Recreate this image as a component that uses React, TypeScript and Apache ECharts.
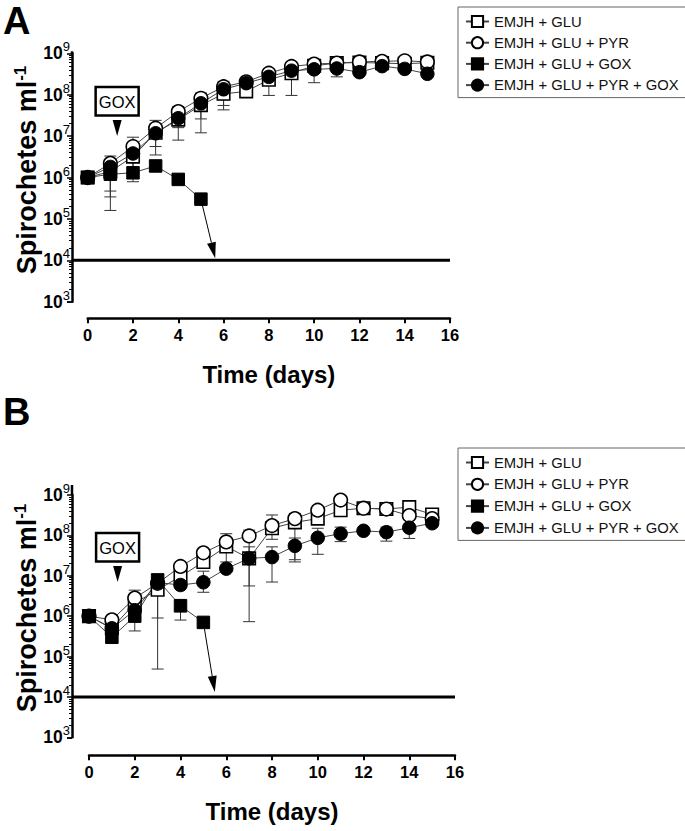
import React, { useEffect, useRef } from 'react';
import * as echarts from 'echarts';

const FONT = '"Liberation Sans", Arial, Helvetica, sans-serif';

const days = [0, 1, 2, 3, 4, 5, 6, 7, 8, 9, 10, 11, 12, 13, 14, 15];
const seriesNames = ['EMJH + GLU', 'EMJH + GLU + PYR', 'EMJH + GLU + GOX', 'EMJH + GLU + PYR + GOX'];
const panelLabels = ['A', 'B'];

// Panel A values (spirochetes / ml)
const A_GLU = [1e6, 1.4e6, 3.2e6, 1.2e7, 2.5e7, 5.6e7, 1.05e8, 1.2e8, 2.3e8, 3.3e8, 5e8, 5.8e8, 6e8, 5.8e8, 5.6e8, 5.9e8];
const A_PYR = [1e6, 2.2e6, 5.6e6, 1.55e7, 3.9e7, 8.2e7, 1.56e8, 2.05e8, 3.3e8, 4.8e8, 5.5e8, 5.8e8, 6.2e8, 6.4e8, 6.6e8, 6.2e8];
const A_GOX = [1e6, 1.2e6, 1.3e6, 1.9e6, 9e5, 3e5];
const A_PYRGOX = [1e6, 1.8e6, 3.8e6, 1.17e7, 2.7e7, 6.2e7, 1.35e8, 1.9e8, 2.7e8, 3.8e8, 4.1e8, 4.3e8, 3.5e8, 4.9e8, 4.2e8, 3.2e8];
// [day, low, high]
const A_ERR = [
  [1, 1.6e5, 3.3e6], [1, 3.4e5, 2.4e6], [1, 4.7e5, 2e6],
  [2, 7.9e5, 9.4e6], [2, 1e6, 6e6],
  [3, 3.5e6, 2.4e7], [3, 5.6e6, 2e7],
  [4, 8e6, 5.2e7], [4, 1.6e7, 4.5e7],
  [5, 1.2e7, 1.1e8], [5, 2.6e7, 9e7],
  [6, 4.3e7, 2.1e8], [6, 5.5e7, 1.8e8], [6, 7.5e7, 1.9e8],
  [7, 1e8, 2.5e8],
  [8, 9.6e7, 3.8e8],
  [9, 9.6e7, 5.5e8],
  [10, 1.95e8, 7e8],
  [11, 2.7e8, 7.5e8],
];

// Panel B values
const B_GLU = [1e6, 5e5, 2.1e6, 4.5e6, 9.6e6, 2.2e7, 5.3e7, 2.7e7, 1.5e8, 2.1e8, 2.6e8, 4.2e8, 4.7e8, 4.5e8, 5e8, 3.3e8];
const B_PYR = [1e6, 8.1e5, 2.8e6, 6.5e6, 1.7e7, 3.7e7, 6.9e7, 9.7e7, 1.75e8, 2.6e8, 4.2e8, 7.5e8, 4.7e8, 4.5e8, 3.1e8, 2.6e8];
const B_GOX = [1e6, 3e5, 1e6, 7.9e6, 1.8e6, 7e5];
const B_PYRGOX = [1e6, 5e5, 1.4e6, 6.8e6, 5.9e6, 6.9e6, 1.5e7, 2.7e7, 2.9e7, 5.5e7, 8.7e7, 1.1e8, 1.3e8, 1.2e8, 1.55e8, 2e8];
const B_ERR = [
  [2, 4.3e5, 4.4e6], [2, 8e5, 3.5e6],
  [3, 4.9e4, 1.05e7], [3, 9e5, 9e6],
  [4, 8e5, 2.6e6],
  [5, 3.9e6, 1.3e7],
  [6, 2.2e7, 1.1e8],
  [7, 7.3e5, 5.2e7], [7, 5.6e6, 1.35e8],
  [8, 7e6, 5.2e7], [8, 8e7, 3.2e8],
  [9, 2.2e7, 8.6e7], [9, 2.5e7, 3.5e8],
  [10, 3.4e7, 1.5e8],
  [11, 7e7, 1.6e8],
  [13, 7.2e7, 1.6e8],
  [14, 8.4e7, 2.5e8],
];

// annotations: GOX addition marker tip [day, value]; GOX-series arrow end [day, value]
const GOX_MARK_A = [1.3, 1e7];
const GOX_MARK_B = [1.25, 7e6];
const ARROW_END_A = [5.63, 1.12e4];
const ARROW_END_B = [5.5, 1.33e4];
const DETECTION_LIMIT = 1e4;

// layout
const GRIDS = [
  { left: 87.7, top: 53.3, width: 362.3, height: 248.4, yOff: 15.7, xOff: 16.6, legendTop: 7, legendGap: 6.2, titleY: 170, axisTopExtra: 2 },
  { left: 89, top: 495, width: 366, height: 242.3, yOff: 17, xOff: 18, legendTop: 448, legendGap: 6.8, titleY: 608, axisTopExtra: 10 },
];

const pairs = (vals: number[]) => vals.map((v, i) => [days[i], v]);

function errRender(params: any, api: any) {
  const x = api.value(0);
  const a = api.coord([x, api.value(1)]);
  const b = api.coord([x, api.value(2)]);
  const w = 6;
  const style = { stroke: '#333', lineWidth: 1 };
  return {
    type: 'group',
    children: [
      { type: 'line', shape: { x1: a[0], y1: a[1], x2: b[0], y2: b[1] }, style },
      { type: 'line', shape: { x1: a[0] - w, y1: a[1], x2: a[0] + w, y2: a[1] }, style },
      { type: 'line', shape: { x1: b[0] - w, y1: b[1], x2: b[0] + w, y2: b[1] }, style },
    ],
  };
}

function lineSeries(name: string, vals: number[], g: number, symbol: string, filled: boolean) {
  return {
    type: 'line',
    name,
    xAxisIndex: g,
    yAxisIndex: g,
    data: pairs(vals),
    symbol,
    symbolSize: symbol === 'rect' ? 12.5 : 13.5,
    showAllSymbol: true,
    itemStyle: filled
      ? { color: '#000', borderColor: '#000', borderWidth: 1 }
      : { color: '#fff', borderColor: '#000', borderWidth: 1.6 },
    lineStyle: { color: '#444', width: 1 },
    z: 3,
  };
}

export default function App() {
  const ref = useRef<HTMLDivElement>(null);
  useEffect(() => {
    const chart = echarts.init(ref.current!, null, { renderer: 'svg' });
    const panels = [
      { glu: A_GLU, pyr: A_PYR, gox: A_GOX, pg: A_PYRGOX, err: A_ERR },
      { glu: B_GLU, pyr: B_PYR, gox: B_GOX, pg: B_PYRGOX, err: B_ERR },
    ];
    const option: any = {
      animation: false,
      textStyle: { fontFamily: FONT },
      grid: GRIDS.map((g) => ({ left: g.left, top: g.top, width: g.width, height: g.height })),
      xAxis: GRIDS.map((g, i) => ({
        type: 'value',
        gridIndex: i,
        min: 0,
        max: 16,
        interval: 2,
        offset: g.xOff,
        position: 'bottom',
        axisLine: { onZero: false, lineStyle: { color: '#000', width: 2.5 } },
        axisTick: { length: 5, lineStyle: { color: '#000', width: 2 } },
        axisLabel: { fontSize: 16.5, fontWeight: 'bold', color: '#000', margin: 8, fontFamily: FONT },
        splitLine: { show: false },
        name: 'Time (days)',
        nameLocation: 'middle',
        nameGap: 44,
        nameTextStyle: { fontSize: 24, fontWeight: 'bold', color: '#000', fontFamily: FONT },
      })),
      yAxis: GRIDS.map((g, i) => ({
        type: 'log',
        logBase: 10,
        gridIndex: i,
        min: 1e3,
        max: 1e9,
        offset: g.yOff,
        position: 'left',
        axisLine: { show: true, onZero: false, lineStyle: { color: '#000', width: 2.5 } },
        axisTick: { show: true, length: 5, lineStyle: { color: '#000', width: 1.5 } },
        minorTick: { show: true, splitNumber: 9, length: 3, lineStyle: { color: '#000', width: 1 } },
        splitLine: { show: false },
        minorSplitLine: { show: false },
        axisLabel: {
          margin: 2,
          formatter: (v: number) => `{b|10}{s|${Math.round(Math.log10(v))}}`,
          rich: {
            b: { fontSize: 17.5, fontWeight: 'bold', color: '#000', fontFamily: FONT },
            s: { fontSize: 13, color: '#000', fontFamily: FONT, padding: [0, 0, 13, 0] },
          },
        },
      })),
      legend: GRIDS.map((g) => ({
        orient: 'vertical',
        left: 458,
        top: g.legendTop,
        data: seriesNames,
        itemWidth: 23,
        itemHeight: 14,
        itemGap: g.legendGap,
        padding: [7, 8, 5, 7],
        borderColor: '#666',
        borderWidth: 1,
        textStyle: { fontSize: 14.8, color: '#111', fontFamily: FONT },
        selectedMode: false,
      })),
      series: panels.flatMap((p, g) => [
        { type: 'custom', name: 'err' + g, xAxisIndex: g, yAxisIndex: g, renderItem: errRender, data: p.err, encode: { x: 0, y: [1, 2] }, z: 1, silent: true },
        lineSeries(seriesNames[0], p.glu, g, 'rect', false),
        lineSeries(seriesNames[1], p.pyr, g, 'circle', false),
        lineSeries(seriesNames[2], p.gox, g, 'rect', true),
        lineSeries(seriesNames[3], p.pg, g, 'circle', true),
      ]),
    };
    chart.setOption(option);

    const px = (g: number, p: number[]) => chart.convertToPixel({ gridIndex: g }, p) as number[];
    const graphics: any[] = [];
    const goxMarks = [GOX_MARK_A, GOX_MARK_B];
    const arrowEnds = [ARROW_END_A, ARROW_END_B];
    const goxSeries = [A_GOX, B_GOX];
    const labelY = [21, 412];
    GRIDS.forEach((g, i) => {
      const axisX = g.left - g.yOff;
      // panel label
      graphics.push({
        type: 'text', x: 3, y: labelY[i], z: 20,
        style: { text: panelLabels[i], fontSize: 38, fontWeight: 'bold', fontFamily: FONT, fill: '#000', align: 'left', verticalAlign: 'middle' },
      });
      // y title
      graphics.push({
        type: 'text', x: 27, y: g.titleY, rotation: Math.PI / 2, z: 20,
        style: {
          text: '{a|Spirochetes ml}{s|-1}',
          align: 'center',
          verticalAlign: 'middle',
          rich: {
            a: { fontSize: 27, fontWeight: 'bold', fontFamily: FONT, fill: '#000' },
            s: { fontSize: 17, fontWeight: 'bold', fontFamily: FONT, fill: '#000', padding: [0, 0, 13, 0] },
          },
        },
      });
      // small extension of the y axis line above the top decade
      graphics.push({
        type: 'line', z: 5,
        shape: { x1: axisX, y1: g.top - g.axisTopExtra, x2: axisX, y2: g.top },
        style: { stroke: '#000', lineWidth: 2.5 },
      });
      // detection limit line
      const l0 = px(i, [0, DETECTION_LIMIT]);
      const l1 = px(i, [16, DETECTION_LIMIT]);
      graphics.push({
        type: 'line', z: 5,
        shape: { x1: axisX, y1: l0[1], x2: l1[0], y2: l1[1] },
        style: { stroke: '#000', lineWidth: 3 },
      });
      // GOX addition marker
      const tip = px(i, goxMarks[i]);
      graphics.push({
        type: 'polygon', z: 20,
        shape: { points: [[tip[0] - 4.5, tip[1] - 16], [tip[0] + 4.5, tip[1] - 16], [tip[0], tip[1]]] },
        style: { fill: '#000' },
      });
      graphics.push({
        type: 'rect', z: 20,
        shape: { x: tip[0] - 21.5, y: tip[1] - 49, width: 43, height: 28.5 },
        style: { fill: '#fff', stroke: '#000', lineWidth: 2.5 },
      });
      graphics.push({
        type: 'text', x: tip[0], y: tip[1] - 34.5, z: 21,
        style: { text: 'GOX', fontSize: 16.5, fontFamily: FONT, fill: '#000', align: 'center', verticalAlign: 'middle' },
      });
      // arrow from last GOX point down to detection limit
      const gs = goxSeries[i];
      const p0 = px(i, [days[gs.length - 1], gs[gs.length - 1]]);
      const p1 = px(i, arrowEnds[i]);
      const dx = p1[0] - p0[0];
      const dy = p1[1] - p0[1];
      const L = Math.hypot(dx, dy);
      const ux = dx / L;
      const uy = dy / L;
      const head = 16;
      const hw = 4.5;
      const bx = p1[0] - ux * head;
      const by = p1[1] - uy * head;
      graphics.push({
        type: 'line', z: 2,
        shape: { x1: p0[0], y1: p0[1], x2: bx, y2: by },
        style: { stroke: '#000', lineWidth: 1 },
      });
      graphics.push({
        type: 'polygon', z: 6,
        shape: { points: [[p1[0], p1[1]], [bx - uy * hw, by + ux * hw], [bx + uy * hw, by - ux * hw]] },
        style: { fill: '#000' },
      });
    });
    chart.setOption({ graphic: graphics });
    return () => chart.dispose();
  }, []);
  return <div ref={ref} style={{ position: 'fixed', left: 0, top: 0, width: 685, height: 831, background: '#fff' }} />;
}
